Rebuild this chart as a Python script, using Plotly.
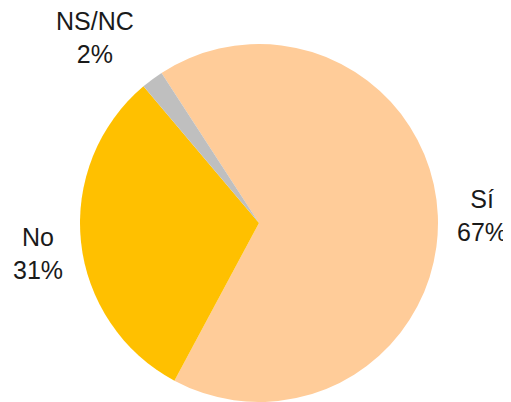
import plotly.graph_objects as go

labels = ["Sí", "No", "NS/NC"]
values = [67, 31, 2]
colors = ["#FFCC99", "#FFC000", "#BFBFBF"]

# label centres in window pixels (x, y)
label_pos = [(482, 215), (38, 253), (95, 37)]

# the page body adds an 8px offset, so the figure is drawn that much smaller
OFF = 8
W, H = 511 - OFF, 402 - OFF
L, T = 79 - OFF, 44 - OFF
pw, ph = 360, H - T
R, B = W - L - pw, 0

fig = go.Figure(
    data=[go.Pie(
        labels=labels,
        values=values,
        marker=dict(colors=colors, line=dict(width=0)),
        sort=False,
        direction="clockwise",
        rotation=-33,
        textinfo="none",
        hoverinfo="label+percent",
        showlegend=False,
    )],
)

for lab, val, (px, py) in zip(labels, values, label_pos):
    fig.add_annotation(
        x=(px - OFF - L) / pw, y=(H - (py - OFF)) / ph,
        xref="paper", yref="paper",
        text=f"{lab}<br>{val}%",
        showarrow=False,
        xanchor="center", yanchor="middle",
        font=dict(family="Liberation Sans", size=25, color="#1a1a1a"),
    )

fig.update_layout(
    width=W, height=H,
    margin=dict(l=L, r=R, t=T, b=B),
    paper_bgcolor="white",
    plot_bgcolor="white",
)

fig.write_html("out.html")
